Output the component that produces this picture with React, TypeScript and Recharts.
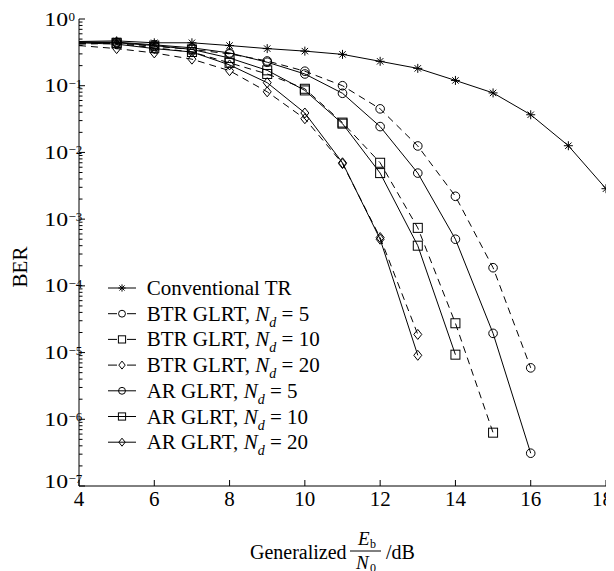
import React from 'react';
import { LineChart, Line, XAxis, YAxis, Legend } from 'recharts';

// x values (dB)
const snr = [4, 5, 6, 7, 8, 9, 10, 11, 12, 13, 14, 15, 16, 17, 18];

// BER values (index matches snr)
const convTR = [0.46, 0.47, 0.44, 0.44, 0.40, 0.36, 0.33, 0.295, 0.232, 0.182, 0.12, 0.078, 0.0367, 0.0126, 0.00286];
const btr5 = [0.43, 0.44, 0.39, 0.35, 0.30, 0.235, 0.165, 0.1, 0.045, 0.0125, 0.0022, 1.87e-4, 5.9e-6];
const btr10 = [0.42, 0.43, 0.37, 0.32, 0.22, 0.15, 0.09, 0.028, 0.007, 7.4e-4, 2.75e-5, 6.3e-7];
const btr20 = [0.40, 0.36, 0.31, 0.25, 0.168, 0.081, 0.032, 0.0068, 5.3e-4, 1.87e-5];
const ar5 = [0.45, 0.45, 0.41, 0.37, 0.31, 0.225, 0.15, 0.077, 0.0244, 0.0049, 5.0e-4, 1.94e-5, 3.1e-7];
const ar10 = [0.45, 0.44, 0.40, 0.35, 0.26, 0.17, 0.085, 0.027, 0.0049, 4.0e-4, 9.3e-6];
const ar20 = [0.44, 0.42, 0.36, 0.32, 0.205, 0.111, 0.039, 0.007, 5.0e-4, 9.1e-6];

const xTicks = [4, 6, 8, 10, 12, 14, 16, 18];
const majorExp = [0, -1, -2, -3, -4, -5, -6, -7];

const yTicks: number[] = [];
majorExp.forEach(e => yTicks.push(Math.pow(10, e)));
for (let e = -7; e < 0; e++) {
    for (let k = 2; k <= 9; k++) yTicks.push(k * Math.pow(10, e));
}

const data = snr.map((x, i) => ({
    x,
    conv: convTR[i] ?? null,
    btr5: btr5[i] ?? null,
    btr10: btr10[i] ?? null,
    btr20: btr20[i] ?? null,
    ar5: ar5[i] ?? null,
    ar10: ar10[i] ?? null,
    ar20: ar20[i] ?? null,
}));

const FONT = '"Liberation Serif", "Times New Roman", serif';

function Marker({ kind, cx, cy, s = 1 }) {
    if (kind === 'circle') return <circle cx={cx} cy={cy} r={4.3 * s} fill="none" stroke="#000" strokeWidth={1} />;
    if (kind === 'square') {
        const h = 4.5 * s;
        return <rect x={cx - h} y={cy - h} width={2 * h} height={2 * h} fill="none" stroke="#000" strokeWidth={1} />;
    }
    if (kind === 'diamond') {
        const h = 5 * s;
        return <polygon points={`${cx},${cy - h} ${cx + h * 0.8},${cy} ${cx},${cy + h} ${cx - h * 0.8},${cy}`} fill="none" stroke="#000" strokeWidth={1} />;
    }
    const r = 4.5 * s, d = 3.2 * s;
    return (
        <g stroke="#000" strokeWidth={1}>
            <line x1={cx - r} x2={cx + r} y1={cy} y2={cy} />
            <line x1={cx} x2={cx} y1={cy - r} y2={cy + r} />
            <line x1={cx - d} x2={cx + d} y1={cy - d} y2={cy + d} />
            <line x1={cx - d} x2={cx + d} y1={cy + d} y2={cy - d} />
        </g>
    );
}

const dotFor = (kind: string) => (props: any) => {
    const { cx, cy, payload, value, index } = props;
    if (cx == null || cy == null || value == null || payload.x === 4) return <g key={index} />;
    return <g key={index}><Marker kind={kind} cx={cx} cy={cy} /></g>;
};

const series = [
    { key: 'conv', kind: 'star', dashed: false, label: 'Conventional TR', nd: null },
    { key: 'btr5', kind: 'circle', dashed: true, label: 'BTR GLRT, ', nd: '5' },
    { key: 'btr10', kind: 'square', dashed: true, label: 'BTR GLRT, ', nd: '10' },
    { key: 'btr20', kind: 'diamond', dashed: true, label: 'BTR GLRT, ', nd: '20' },
    { key: 'ar5', kind: 'circle', dashed: false, label: 'AR GLRT, ', nd: '5' },
    { key: 'ar10', kind: 'square', dashed: false, label: 'AR GLRT, ', nd: '10' },
    { key: 'ar20', kind: 'diamond', dashed: false, label: 'AR GLRT, ', nd: '20' },
];

function YTick({ x, y, payload }) {
    const v = payload.value;
    const lg = Math.log10(v);
    const e = Math.round(lg);
    const major = Math.abs(lg - e) < 1e-6;
    const yy = e === -7 && major ? y - 5 : y;
    return (
        <g>
            <line x1={x} x2={x + (major ? 6 : 3.5)} y1={y} y2={y} stroke="#000" strokeWidth={1} />
            {major && (
                <g transform={`translate(${x - 11},${yy})`} fontFamily={FONT} fill="#000">
                    <text x={0} y={6.5} textAnchor="end" fontSize={19} transform="scale(1.25,1)">10</text>
                    <text x={0.5} y={2} fontSize={13}>{e === 0 ? '0' : '\u2212' + Math.abs(e)}</text>
                </g>
            )}
        </g>
    );
}

function XTick({ x, y, payload }) {
    const last = payload.value === 18;
    return (
        <g>
            <line x1={x} x2={x} y1={y} y2={y - 6} stroke="#000" strokeWidth={1} />
            <text x={last ? x + 7 : x} y={y + 20} textAnchor={last ? 'end' : 'middle'} fontSize={21} fontFamily={FONT} fill="#000">{payload.value}</text>
        </g>
    );
}

function XLabel() {
    return (
        <g fontFamily={FONT} fill="#000">
            <text x={242} y={551} fontSize={20}>Generalized</text>
            <text x={350} y={537} fontSize={19} fontStyle="italic">E</text>
            <text x={362} y={540} fontSize={12}>b</text>
            <line x1={342} x2={373} y1={543} y2={543} stroke="#000" strokeWidth={1} />
            <text x={348} y={561} fontSize={19} fontStyle="italic">N</text>
            <text x={362} y={564} fontSize={12}>0</text>
            <text x={378} y={551} fontSize={20}>/dB</text>
        </g>
    );
}

function YLabel() {
    return (
        <text x={19} y={259} transform="rotate(-90 19 259)" textAnchor="middle" fontSize={21} fontFamily={FONT} fill="#000">BER</text>
    );
}

function LegendBox() {
    return (
        <svg width={240} height={180} style={{ overflow: 'visible' }}>
            {series.map((s, i) => {
                const cy = 12 + 25.7 * i;
                return (
                    <g key={s.key}>
                        {s.dashed ? (
                            <g stroke="#000" strokeWidth={1}>
                                <line x1={8} x2={17} y1={cy} y2={cy} />
                                <line x1={27} x2={36} y1={cy} y2={cy} />
                            </g>
                        ) : (
                            <line x1={8} x2={36} y1={cy} y2={cy} stroke="#000" strokeWidth={1} />
                        )}
                        <Marker kind={s.kind} cx={22} cy={cy} s={0.8} />
                        <text x={46.7} y={cy + 7} fontSize={21} fontFamily={FONT} fill="#000">
                            <tspan>{s.label}</tspan>
                            {s.nd && <tspan fontStyle="italic">N</tspan>}
                            {s.nd && <tspan fontStyle="italic" fontSize={14} dy={6}>d</tspan>}
                            {s.nd && <tspan dy={-6}>{' = ' + s.nd}</tspan>}
                        </text>
                    </g>
                );
            })}
        </svg>
    );
}

export default function App() {
    return (
        <LineChart width={606} height={563} data={data} margin={{ top: 11, right: 8, left: 0, bottom: 55 }} style={{ overflow: 'visible' }}>
            <XAxis
                dataKey="x"
                type="number"
                domain={[4, 18]}
                ticks={xTicks}
                interval={0}
                tickLine={false}
                tickSize={0}
                tickMargin={0}
                axisLine={{ stroke: '#000' }}
                tick={XTick}
                height={30}
                label={{ content: XLabel }}
            />
            <YAxis
                type="number"
                scale="log"
                domain={[1e-7, 1]}
                ticks={yTicks}
                interval={0}
                tickLine={false}
                tickSize={0}
                tickMargin={0}
                axisLine={{ stroke: '#000' }}
                tick={YTick}
                width={71}
                label={{ content: YLabel }}
            />
            <Legend
                layout="vertical"
                align="center"
                verticalAlign="middle"
                content={LegendBox}
                wrapperStyle={{ left: 92, top: 268, width: 240, height: 180 }}
            />
            {series.map(s => (
                <Line
                    key={s.key}
                    dataKey={s.key}
                    type="linear"
                    stroke="#000"
                    strokeWidth={1}
                    strokeDasharray={s.dashed ? '7 5' : undefined}
                    dot={dotFor(s.kind)}
                    activeDot={false}
                    isAnimationActive={false}
                />
            ))}
        </LineChart>
    );
}
